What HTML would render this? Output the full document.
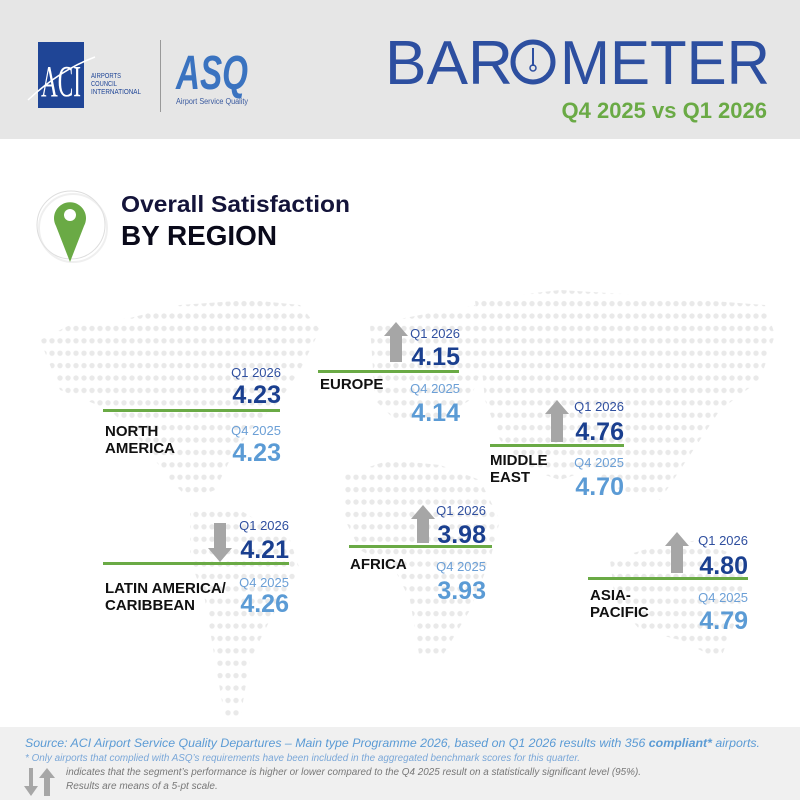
<!DOCTYPE html>
<html><head><meta charset="utf-8"><style>
html,body{margin:0;padding:0;background:#fff;}
svg{display:block;font-family:"Liberation Sans",sans-serif;}
</style></head><body>
<svg width="800" height="800" viewBox="0 0 800 800" xmlns="http://www.w3.org/2000/svg">
<defs>
<pattern id="dots" x="0" y="0" width="8" height="12.4" patternUnits="userSpaceOnUse">
<circle cx="4" cy="6" r="2.7" fill="#e9e9e9"/>
</pattern>
<clipPath id="land">
<polygon points="40,340 70,325 130,318 180,305 250,300 300,305 320,330 300,370 280,400 250,430 230,460 215,490 190,500 170,480 140,440 110,410 60,390"/>
<polygon points="190,505 240,510 290,540 300,570 270,620 250,660 240,720 225,720 215,660 205,600 190,560"/>
<polygon points="370,325 420,315 475,305 485,360 470,400 440,420 400,425 375,400"/>
<polygon points="345,475 390,460 440,465 480,480 500,520 490,560 470,610 440,660 420,660 410,600 395,570 360,550 345,520"/>
<polygon points="475,300 560,290 640,295 700,300 765,305 775,335 760,380 720,410 700,440 680,470 660,500 620,490 590,470 560,480 530,470 500,440 485,400"/>
<polygon points="610,560 660,545 700,540 745,560 740,610 720,660 680,640 640,630 615,600"/>
</clipPath>
</defs>
<rect x="0" y="0" width="800" height="139" fill="#e6e6e6"/>
<rect x="38" y="42" width="46" height="66" fill="#1f4596"/>
<text x="61" y="96" font-family="Liberation Serif,serif" font-size="44" fill="#fff" text-anchor="middle" textLength="40" lengthAdjust="spacingAndGlyphs">ACI</text>
<path d="M28,100 Q60,70 95,57" stroke="#fff" stroke-width="1.5" fill="none"/>
<text x="91" y="78" font-size="7.5" fill="#1f4596" textLength="30" lengthAdjust="spacingAndGlyphs">AIRPORTS</text>
<text x="91" y="86" font-size="7.5" fill="#1f4596" textLength="26" lengthAdjust="spacingAndGlyphs">COUNCIL</text>
<text x="91" y="94" font-size="7.5" fill="#1f4596" textLength="50" lengthAdjust="spacingAndGlyphs">INTERNATIONAL</text>
<rect x="160" y="40" width="1" height="72" fill="#999"/>
<text x="176" y="89" font-size="48" font-weight="bold" font-style="italic" fill="#3a73c0" textLength="72" lengthAdjust="spacingAndGlyphs">ASQ</text>
<text x="176" y="104" font-size="8" fill="#3a5a9f" textLength="72" lengthAdjust="spacingAndGlyphs">Airport Service Quality</text>
<text x="385" y="84" font-size="62" fill="#2d4fa0" textLength="128" lengthAdjust="spacingAndGlyphs">BAR</text>
<circle cx="533" cy="62" r="20" fill="none" stroke="#2d4fa0" stroke-width="5"/>
<line x1="533" y1="48" x2="533" y2="66" stroke="#2d4fa0" stroke-width="2"/>
<circle cx="533" cy="68" r="3" fill="none" stroke="#2d4fa0" stroke-width="1.5"/>
<text x="560" y="84" font-size="62" fill="#2d4fa0" textLength="210" lengthAdjust="spacingAndGlyphs">METER</text>
<text x="767" y="118" font-size="22" font-weight="bold" fill="#6aaa45" text-anchor="end">Q4 2025 vs Q1 2026</text>
<circle cx="71" cy="225" r="34" fill="#fff" stroke="#ddd" stroke-width="1"/>
<circle cx="73" cy="228" r="34" fill="none" stroke="#e5e5e5" stroke-width="2" opacity="0.6"/>
<path d="M70,262 L56,226 A16,16 0 1 1 84,226 Z" fill="#6aaa45"/>
<circle cx="70" cy="215" r="6" fill="#fff"/>
<text x="121" y="212" font-size="23" font-weight="bold" fill="#14143a" textLength="229" lengthAdjust="spacingAndGlyphs">Overall Satisfaction</text>
<text x="121" y="245" font-size="28" font-weight="bold" fill="#0a0a1a" textLength="156" lengthAdjust="spacingAndGlyphs">BY REGION</text>
<rect x="0" y="280" width="800" height="445" fill="url(#dots)" clip-path="url(#land)"/>
<g fill="#a6a6a6">
<polygon points="390,362 390,336 384,336 396,322 408,336 402,336 402,362"/>
<polygon points="551,442 551,414 545,414 557,400 569,414 563,414 563,442"/>
<polygon points="417,543 417,519 411,519 423,505 435,519 429,519 429,543"/>
<polygon points="671,573 671,546 665,546 677,532 689,546 683,546 683,573"/>
<polygon points="214,523 214,548 208,548 220,562 232,548 226,548 226,523"/>
</g>
<g fill="#6aaa45">
<rect x="103" y="409" width="177" height="3"/>
<rect x="318" y="370" width="141" height="3"/>
<rect x="490" y="444" width="134" height="3"/>
<rect x="349" y="545" width="143" height="3"/>
<rect x="103" y="562" width="186" height="3"/>
<rect x="588" y="577" width="160" height="3"/>
</g>
<g font-size="13" fill="#2f4f9f" text-anchor="end">
<text x="281" y="377">Q1 2026</text>
<text x="460" y="338">Q1 2026</text>
<text x="624" y="411">Q1 2026</text>
<text x="486" y="515">Q1 2026</text>
<text x="289" y="530">Q1 2026</text>
<text x="748" y="545">Q1 2026</text>
</g>
<g font-size="13" fill="#6b9fd6" text-anchor="end">
<text x="281" y="435">Q4 2025</text>
<text x="460" y="393">Q4 2025</text>
<text x="624" y="467">Q4 2025</text>
<text x="486" y="571">Q4 2025</text>
<text x="289" y="587">Q4 2025</text>
<text x="748" y="602">Q4 2025</text>
</g>
<g font-size="25" font-weight="bold" fill="#1a3f8f" text-anchor="end">
<text x="281" y="403">4.23</text>
<text x="460" y="365">4.15</text>
<text x="624" y="440">4.76</text>
<text x="486" y="543">3.98</text>
<text x="289" y="558">4.21</text>
<text x="748" y="574">4.80</text>
</g>
<g font-size="25" font-weight="bold" fill="#5b9bd5" text-anchor="end">
<text x="281" y="461">4.23</text>
<text x="460" y="421">4.14</text>
<text x="624" y="495">4.70</text>
<text x="486" y="599">3.93</text>
<text x="289" y="612">4.26</text>
<text x="748" y="629">4.79</text>
</g>
<g font-size="15" font-weight="bold" fill="#111">
<text x="105" y="436">NORTH</text>
<text x="105" y="453">AMERICA</text>
<text x="320" y="389">EUROPE</text>
<text x="490" y="465">MIDDLE</text>
<text x="490" y="482">EAST</text>
<text x="350" y="569">AFRICA</text>
<text x="105" y="593">LATIN AMERICA/</text>
<text x="105" y="610">CARIBBEAN</text>
<text x="590" y="600">ASIA-</text>
<text x="590" y="617">PACIFIC</text>
</g>
<rect x="0" y="727" width="800" height="73" fill="#f0f0f0"/>
<text x="25" y="747" font-size="12" font-style="italic" fill="#5b9bd5" textLength="735" lengthAdjust="spacingAndGlyphs">Source: ACI Airport Service Quality Departures – Main type Programme 2026, based on Q1 2026 results with 356 <tspan font-weight="bold">compliant*</tspan> airports.</text>
<text x="25" y="761" font-size="10" font-style="italic" fill="#7aa7d8" textLength="555" lengthAdjust="spacingAndGlyphs">* Only airports that complied with ASQ’s requirements have been included in the aggregated benchmark scores for this quarter.</text>
<g fill="#a6a6a6">
<polygon points="29,768 29,786 24,786 31,796 38,786 33,786 33,768"/>
<polygon points="44,796 44,778 39,778 47,768 55,778 50,778 50,796"/>
</g>
<text x="66" y="775" font-size="10" font-style="italic" fill="#777" textLength="575" lengthAdjust="spacingAndGlyphs">indicates that the segment’s performance is higher or lower compared to the Q4 2025 result on a statistically significant level (95%).</text>
<text x="66" y="789" font-size="10" font-style="italic" fill="#777">Results are means of a 5-pt scale.</text>
</svg>
</body></html>
